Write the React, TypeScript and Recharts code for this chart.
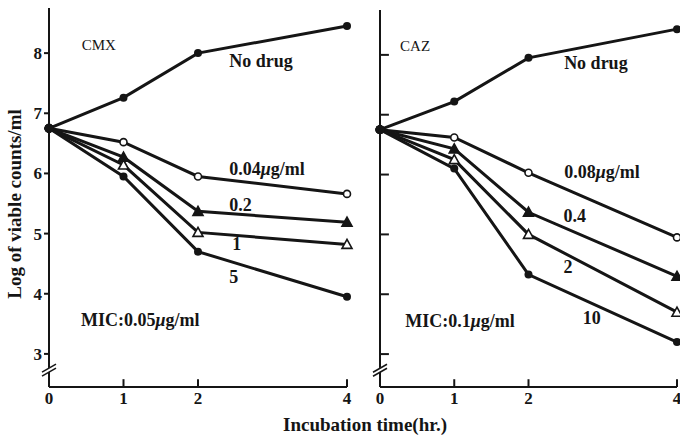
import { LineChart, Line, XAxis, YAxis, ReferenceLine, ReferenceDot } from 'recharts'

const times = [0, 1, 2, 4]
const xTicks = [0, 1, 2, 4]
const yTicks = [3, 4, 5, 6, 7, 8]

// CMX panel (log viable counts/ml)
const cmxNoDrug = [6.75, 7.26, 8.0, 8.45]
const cmx004 = [6.75, 6.52, 5.95, 5.66]
const cmx02 = [6.75, 6.27, 5.37, 5.19]
const cmx1 = [6.75, 6.14, 5.02, 4.82]
const cmx5 = [6.75, 5.95, 4.7, 3.95]

// CAZ panel
const cazNoDrug = [6.75, 7.22, 7.95, 8.43]
const caz008 = [6.75, 6.62, 6.03, 4.95]
const caz04 = [6.75, 6.43, 5.37, 4.3]
const caz2 = [6.75, 6.25, 5.0, 3.7]
const caz10 = [6.75, 6.1, 4.33, 3.2]

const INK = '#151515'
const FONT = '"Liberation Serif", "DejaVu Serif", serif'
const Y_DOMAIN: [number, number] = [2.45, 8.75]

type Kind = 'dot' | 'open' | 'tri' | 'openTri'

const toRows = (series: number[][]) =>
  times.map((t, i) => {
    const row: Record<string, number> = { t }
    series.forEach((s, j) => (row['s' + j] = s[i]))
    return row
  })

const cmxData = toRows([cmxNoDrug, cmx004, cmx02, cmx1, cmx5])
const cazData = toRows([cazNoDrug, caz008, caz04, caz2, caz10])

const cmxKinds: Kind[] = ['dot', 'open', 'tri', 'openTri', 'dot']
const cazKinds: Kind[] = ['dot', 'open', 'tri', 'openTri', 'dot']

function marker(kind: Kind) {
  return (p: any) => {
    const { cx, cy, index } = p
    if (cx == null || cy == null) return <g key={index} />
    if (index === 0) return <circle key={index} cx={cx} cy={cy} r={4.5} fill={INK} />
    if (kind === 'open')
      return <circle key={index} cx={cx} cy={cy} r={3.5} fill="#fff" stroke={INK} strokeWidth={1.6} />
    if (kind === 'tri' || kind === 'openTri') {
      const r = 5
      const pts = `${cx},${cy - r} ${cx - r},${cy + r * 0.8} ${cx + r},${cy + r * 0.8}`
      return (
        <polygon
          key={index}
          points={pts}
          fill={kind === 'tri' ? INK : '#fff'}
          stroke={INK}
          strokeWidth={1.6}
        />
      )
    }
    return <circle key={index} cx={cx} cy={cy} r={4} fill={INK} />
  }
}

function note(key: string, x: number, y: number, text: string, size = 18, weight = 'bold') {
  const mu = text.indexOf('μ')
  return (
    <ReferenceDot
      key={key}
      x={x}
      y={y}
      r={0}
      ifOverflow="visible"
      shape={(p: any) => (
        <text
          x={p.cx}
          y={p.cy}
          dominantBaseline="central"
          fill={INK}
          fontSize={size}
          fontWeight={weight}
          fontFamily={FONT}
        >
          {mu < 0 ? (
            text
          ) : (
            <>
              {text.slice(0, mu)}
              <tspan fontStyle="italic">μ</tspan>
              {text.slice(mu + 1)}
            </>
          )}
        </text>
      )}
    />
  )
}

function axisBreak() {
  return (
    <ReferenceDot
      x={0}
      y={2.73}
      r={0}
      ifOverflow="visible"
      shape={(p: any) => (
        <g stroke={INK} strokeWidth={1.6}>
          <polygon
            points={`${p.cx - 6},${p.cy + 1} ${p.cx + 6},${p.cy - 6} ${p.cx + 6},${p.cy - 2} ${p.cx - 6},${p.cy + 5}`}
            fill="#fff"
            stroke="none"
          />
          <line x1={p.cx - 7} y1={p.cy + 2} x2={p.cx + 7} y2={p.cy - 6} />
          <line x1={p.cx - 7} y1={p.cy + 6} x2={p.cx + 7} y2={p.cy - 2} />
        </g>
      )}
    />
  )
}

const innerXTicks = (prefix: string) =>
  xTicks
    .filter((t) => t > 0)
    .map((t) => (
      <ReferenceLine
        key={prefix + t}
        segment={[
          { x: t, y: Y_DOMAIN[0] },
          { x: t, y: Y_DOMAIN[0] + 0.13 },
        ]}
        stroke={INK}
        strokeWidth={2}
        ifOverflow="visible"
      />
    ))

const innerYTicks = () =>
  yTicks.map((v) => (
    <ReferenceLine
      key={'y' + v}
      segment={[
        { x: 0, y: v },
        { x: 0.12, y: v },
      ]}
      stroke={INK}
      strokeWidth={2}
      ifOverflow="visible"
    />
  ))

const tickStyle = { fill: INK, fontSize: 17, fontWeight: 'bold', fontFamily: FONT }

function lines(kinds: Kind[]) {
  return kinds.map((k, j) => (
    <Line
      key={'s' + j}
      dataKey={'s' + j}
      stroke={INK}
      strokeWidth={3}
      dot={marker(k)}
      activeDot={false}
      isAnimationActive={false}
    />
  ))
}

export default function App() {
  return (
    <div
      style={{
        position: 'fixed',
        left: 0,
        top: 0,
        width: 680,
        height: 437,
        overflow: 'hidden',
        background: '#fff',
        fontFamily: FONT,
      }}
    >
      <div style={{ position: 'absolute', left: 0, top: 0 }}>
        <LineChart width={360} height={437} data={cmxData} margin={{ top: 8, right: 13, left: 19, bottom: 30 }}>
          <XAxis
            dataKey="t"
            type="number"
            domain={[0, 4]}
            ticks={xTicks}
            height={20}
            tickLine={false}
            tickSize={3}
            tickMargin={2}
            axisLine={{ stroke: INK, strokeWidth: 2 }}
            tick={tickStyle}
          />
          <YAxis
            type="number"
            domain={Y_DOMAIN}
            ticks={yTicks}
            allowDataOverflow
            width={30}
            tickSize={5}
            tickMargin={2}
            axisLine={{ stroke: INK, strokeWidth: 2 }}
            tickLine={{ stroke: INK, strokeWidth: 2 }}
            tick={tickStyle}
          />
          {innerXTicks('l')}
          {axisBreak()}
          {lines(cmxKinds)}
          {note('cmx', 0.44, 8.13, 'CMX', 15, 'normal')}
          {note('nd', 2.42, 7.87, 'No drug', 18, '600')}
          {note('a', 2.42, 6.07, '0.04μg/ml')}
          {note('b', 2.42, 5.48, '0.2')}
          {note('c', 2.46, 4.82, '1')}
          {note('d', 2.42, 4.28, '5')}
          {note('mic', 0.43, 3.57, 'MIC:0.05μg/ml')}
        </LineChart>
      </div>
      <div style={{ position: 'absolute', left: 360, top: 0 }}>
        <LineChart width={330} height={437} data={cazData} margin={{ top: 10, right: 13, left: 20, bottom: 30 }}>
          <XAxis
            dataKey="t"
            type="number"
            domain={[0, 4]}
            ticks={xTicks}
            height={20}
            tickLine={false}
            tickSize={3}
            tickMargin={2}
            axisLine={{ stroke: INK, strokeWidth: 2 }}
            tick={tickStyle}
          />
          <YAxis type="number" domain={Y_DOMAIN} ticks={yTicks} allowDataOverflow hide />
          <ReferenceLine x={0} stroke={INK} strokeWidth={2} ifOverflow="visible" />
          {innerXTicks('r')}
          {innerYTicks()}
          {axisBreak()}
          {lines(cazKinds)}
          {note('caz', 0.27, 8.15, 'CAZ', 15, 'normal')}
          {note('nd', 2.48, 7.87, 'No drug', 18, '600')}
          {note('a', 2.48, 6.05, '0.08μg/ml')}
          {note('b', 2.47, 5.3, '0.4')}
          {note('c', 2.47, 4.45, '2')}
          {note('d', 2.73, 3.6, '10')}
          {note('mic', 0.34, 3.55, 'MIC:0.1μg/ml')}
        </LineChart>
      </div>
      <div
        style={{
          position: 'absolute',
          left: 15,
          top: 204,
          transform: 'translate(-50%, -50%) rotate(-90deg)',
          whiteSpace: 'nowrap',
          fontSize: 19,
          fontWeight: 'bold',
          color: INK,
        }}
      >
        Log of viable counts/ml
      </div>
      <div
        style={{
          position: 'absolute',
          left: 365,
          top: 425,
          transform: 'translate(-50%, -50%)',
          whiteSpace: 'nowrap',
          fontSize: 19,
          fontWeight: 'bold',
          color: INK,
        }}
      >
        Incubation time(hr.)
      </div>
    </div>
  )
}
